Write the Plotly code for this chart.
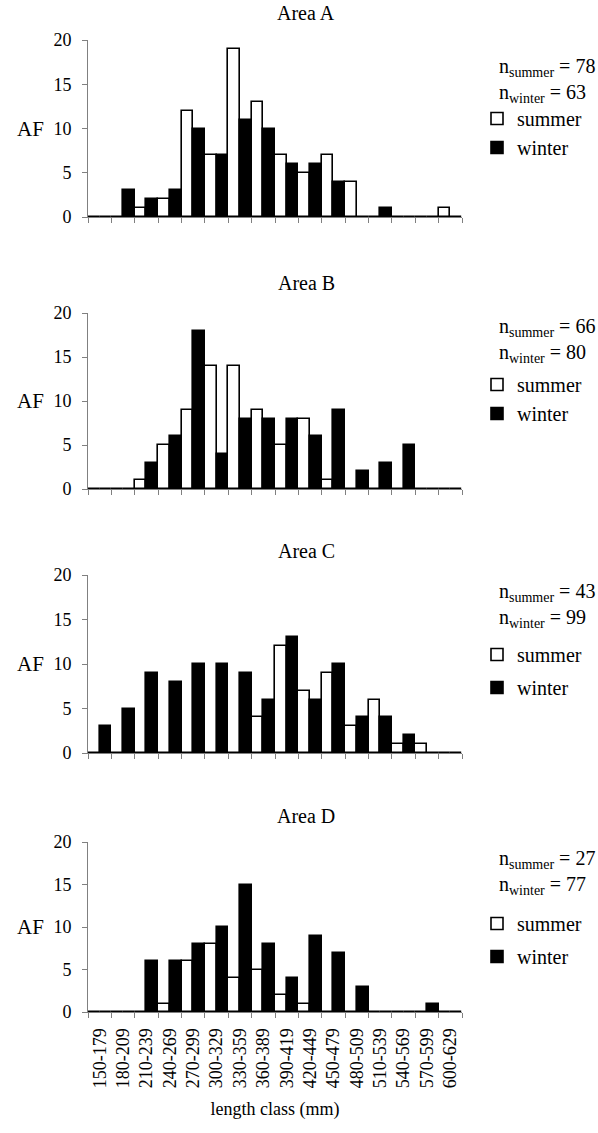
import plotly.graph_objects as go

categories = ['150-179', '180-209', '210-239', '240-269', '270-299', '300-329',
              '330-359', '360-389', '390-419', '420-449', '450-479', '480-509',
              '510-539', '540-569', '570-599', '600-629']

areas = ['Area A', 'Area B', 'Area C', 'Area D']

summer_A = [0, 0, 1, 2, 12, 7, 19, 13, 7, 5, 7, 4, 0, 0, 0, 1]
winter_A = [0, 3, 2, 3, 10, 7, 11, 10, 6, 6, 4, 0, 1, 0, 0, 0]
summer_B = [0, 0, 1, 5, 9, 14, 14, 9, 5, 8, 1, 0, 0, 0, 0, 0]
winter_B = [0, 0, 3, 6, 18, 4, 8, 8, 8, 6, 9, 2, 3, 5, 0, 0]
summer_C = [0, 0, 0, 0, 0, 0, 0, 4, 12, 7, 9, 3, 6, 1, 1, 0]
winter_C = [3, 5, 9, 8, 10, 10, 9, 6, 13, 6, 10, 4, 4, 2, 0, 0]
summer_D = [0, 0, 0, 1, 6, 8, 4, 5, 2, 1, 0, 0, 0, 0, 0, 0]
winter_D = [0, 0, 6, 6, 8, 10, 15, 8, 4, 9, 7, 3, 0, 0, 1, 0]

n_summer = [78, 66, 43, 27]
n_winter = [63, 80, 99, 77]

y_ticks = [0, 5, 10, 15, 20]

summer_series = [summer_A, summer_B, summer_C, summer_D]
winter_series = [winter_A, winter_B, winter_C, winter_D]

# ---- layout (pixels) ----
W, H = 598, 1133
FONT = 'Liberation Serif'
AXIS_GREY = '#808080'
x_left, x_right = 88, 462
panel_px = [(40, 217), (313, 489), (575, 753), (842, 1012)]  # (top, bottom)
title_px = [13, 283, 551, 816]
ntext_px = [80, 340, 605, 872]
legend_px = [133, 399, 671, 940]
legend_gap = [0, 0, 4, 4]


def py(p):
    return 1 - p / H


fig = go.Figure()
annotations = []
for i in range(4):
    k = '' if i == 0 else str(i + 1)
    leg = 'legend' + k
    fig.add_trace(go.Bar(
        x=categories, y=summer_series[i], name='summer',
        marker=dict(color='white', line=dict(color='black', width=1.6)),
        xaxis='x' + k, yaxis='y' + k, legend=leg, legendgroup='s' + k))
    fig.add_trace(go.Bar(
        x=categories, y=winter_series[i], name='winter',
        marker=dict(color='black', line=dict(color='black', width=1.6)),
        xaxis='x' + k, yaxis='y' + k, legend=leg, legendgroup='w' + k))

    top, bot = panel_px[i]
    last = (i == 3)
    fig.layout['xaxis' + k] = dict(
        domain=[x_left / W, x_right / W], anchor='y' + k,
        type='category', categoryorder='array', categoryarray=categories,
        range=[-0.5, len(categories) - 0.5],
        showline=True, linecolor=AXIS_GREY, linewidth=1,
        ticks='outside', ticklen=5, tickcolor=AXIS_GREY, tickwidth=1,
        tickson='boundaries', showgrid=False, zeroline=False,
        showticklabels=last, tickangle=-90,
        tickfont=dict(family=FONT, size=18, color='black'),
        ticklabelstandoff=8,
        title=dict(text='length class (mm)' if last else '',
                   font=dict(family=FONT, size=18, color='black'), standoff=15),
    )
    fig.layout['yaxis' + k] = dict(
        domain=[py(bot), py(top)], anchor='x' + k,
        range=[0, 20], tickvals=y_ticks,
        showline=True, linecolor=AXIS_GREY, linewidth=1,
        ticks='outside', ticklen=5, tickcolor=AXIS_GREY, tickwidth=1,
        showgrid=False, zeroline=False,
        tickfont=dict(family=FONT, size=18, color='black'),
        ticklabelstandoff=7,
    )
    fig.layout[leg] = dict(
        x=477 / W, y=py(legend_px[i]), xanchor='left', yanchor='middle',
        font=dict(family=FONT, size=20, color='black'),
        bgcolor='rgba(0,0,0,0)', borderwidth=0,
        tracegroupgap=legend_gap[i], traceorder='grouped',
    )
    annotations.append(dict(
        text=areas[i], xref='paper', yref='paper', x=306 / W, y=py(title_px[i]),
        xanchor='center', yanchor='middle', showarrow=False,
        font=dict(family=FONT, size=20, color='black')))
    annotations.append(dict(
        text='AF', xref='paper', yref='y' + k + ' domain', x=30 / W, y=0.5,
        xanchor='center', yanchor='middle', showarrow=False,
        font=dict(family=FONT, size=21, color='black')))
    annotations.append(dict(
        text=f'n<sub>summer</sub> = {n_summer[i]}<br>n<sub>winter</sub> = {n_winter[i]}',
        xref='paper', yref='paper', x=497 / W, y=py(ntext_px[i]),
        xanchor='left', yanchor='middle', align='left', showarrow=False,
        font=dict(family=FONT, size=20, color='black')))

fig.update_layout(
    width=W, height=H,
    margin=dict(l=0, r=0, t=0, b=0, pad=0, autoexpand=False),
    paper_bgcolor='white', plot_bgcolor='white',
    barmode='group', bargap=0, bargroupgap=0,
    annotations=annotations, showlegend=True,
)

fig.write_html(
    'out.html',
    config={'displayModeBar': False},
    post_script="document.body.style.margin='0';document.body.style.overflow='hidden';",
)
